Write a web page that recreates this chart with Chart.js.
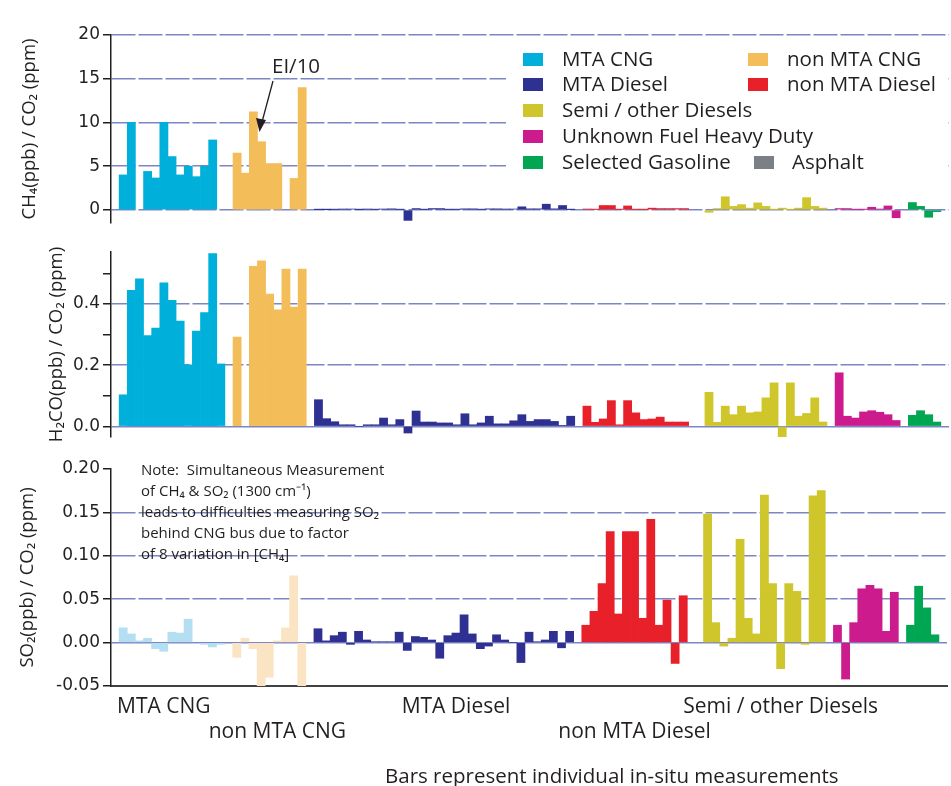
<!DOCTYPE html>
<html>
<head>
<meta charset="utf-8">
<script src="https://cdn.jsdelivr.net/npm/chart.js@4.4.1/dist/chart.umd.min.js"></script>
<style>
  body { margin: 0; background: #fff; width: 951px; height: 786px; position: relative; overflow: hidden; }
  canvas { position: absolute; left: 0; }
  #c1 { top: 0; }
  #c2 { top: 230px; }
  #c3 { top: 440px; }
  #foot { position: absolute; left: 385px; top: 761px; white-space: nowrap;
          font: 20.5px "Open Sans", sans-serif; color: #231f20; }
</style>
</head>
<body>
<canvas id="c1" width="951" height="240"></canvas>
<canvas id="c2" width="951" height="230"></canvas>
<canvas id="c3" width="951" height="346"></canvas>
<div id="foot">Bars represent individual in-situ measurements</div>
<script>
// vehicle groups, colours and the slot where each group starts
var categories = ['MTA CNG', 'non MTA CNG', 'MTA Diesel', 'non MTA Diesel',
    'Semi / other Diesels', 'Unknown Fuel Heavy Duty', 'Selected Gasoline', 'Asphalt'];
var colors = ['#00b0da', '#f3be5a', '#2e3192', '#e8202a', '#cfc62b', '#cc1b8d', '#00a651', '#7b8087'];
var so2Colors = ['#b4def2', '#fbe4c4', '#2e3192', '#e8202a', '#cfc62b', '#cc1b8d', '#00a651', '#7b8087'];
var groupStart = [1, 15, 25, 58, 73, 89, 98, 0];
var nSlots = 103;

// group names written under the bottom panel
var groupTickIndex = [6, 20, 42, 64, 82];
var groupTickText = [['MTA CNG'], ['', 'non MTA CNG'], ['MTA Diesel'], ['', 'non MTA Diesel'], ['Semi / other Diesels']];

// CH4 / CO2
var ch4MtaCng = [4.0, 10.0, null, 4.4, 3.65, 10.0, 6.1, 4.0, 5.0, 3.8, 5.0, 8.0, null];
var ch4NonMtaCng = [6.5, 4.2, 11.2, 7.8, 5.3, 5.3, null, 3.6, 14.0];
var ch4MtaDiesel = [0.03, 0.02, 0.05, 0.1, 0.1, 0.03, 0.1, 0.05, 0.1, 0.12, 0.05, -1.2, 0.15, 0.05, 0.15, 0.15,
    0.05, 0.05, 0.12, 0.12, 0.05, 0.12, 0.12, 0.1, 0.1, 0.35, 0.12, 0.12, 0.65, 0.12, 0.5, 0.03];
var ch4NonMtaDiesel = [0.1, 0.05, 0.5, 0.5, 0.05, 0.45, 0.05, 0.05, 0.2, 0.15, 0.15, 0.15, 0.15];
var ch4Semi = [-0.27, 0.15, 1.5, 0.4, 0.6, 0.2, 0.8, 0.4, 0.05, 0.2, 0.05, 0.2, 1.4, 0.4, 0.2];
var ch4Unknown = [0.15, 0.15, 0.05, 0.05, 0.3, 0.1, 0.45, -0.9];
var ch4Gasoline = [0.84, 0.4, -0.84, -0.2];

// H2CO / CO2
var h2coMtaCng = [0.103, 0.445, 0.482, 0.297, 0.321, 0.469, 0.412, 0.344, 0.201, 0.311, 0.372, 0.565, 0.204];
var h2coNonMtaCng = [0.292, null, 0.523, 0.541, 0.432, 0.381, 0.514, 0.39, 0.514];
var h2coMtaDiesel = [0.087, 0.025, 0.015, 0.005, 0.005, 0.0, 0.005, 0.005, 0.027, 0.005, 0.022, -0.022, 0.05, 0.014,
    0.014, 0.011, 0.011, 0.005, 0.041, 0.005, 0.011, 0.033, 0.008, 0.008, 0.018, 0.038, 0.016, 0.022, 0.022, 0.016, 0.003, 0.033];
var h2coNonMtaDiesel = [0.066, 0.013, 0.024, 0.084, 0.005, 0.084, 0.044, 0.022, 0.024, 0.03, 0.014, 0.014, 0.014];
var h2coSemi = [0.111, 0.013, 0.066, 0.038, 0.066, 0.044, 0.047, 0.093, 0.142, -0.036, 0.142, 0.033, 0.042, 0.093, 0.014];
var h2coUnknown = [0.175, 0.033, 0.027, 0.047, 0.051, 0.046, 0.038, 0.019];
var h2coGasoline = [0.036, 0.051, 0.038, 0.014];

// SO2 / CO2
var so2MtaCng = [0.017, 0.010, 0.002, 0.005, -0.007, -0.010, 0.012, 0.011, 0.027, -0.001, -0.002, -0.005, -0.002];
var so2NonMtaCng = [-0.017, 0.005, -0.007, -0.053, -0.040, 0.002, 0.017, 0.077, -0.053];
var so2MtaDiesel = [0.016, 0.002, 0.008, 0.012, -0.002, 0.013, 0.003, 0.001, 0.001, 0.001, 0.012, -0.009, 0.007, 0.006,
    0.003, -0.018, 0.008, 0.011, 0.032, 0.010, -0.007, -0.004, 0.009, 0.003, 0, -0.023, 0.012, 0.001, 0.003, 0.013, -0.006, 0.013];
var so2NonMtaDiesel = [0.020, 0.036, 0.068, 0.128, 0.033, 0.128, 0.128, 0.028, 0.142, 0.020, 0.049, -0.024, 0.054];
var so2Semi = [0.148, 0.023, -0.004, 0.005, 0.119, 0.028, 0.010, 0.170, 0.068, -0.030, 0.068, 0.059, -0.002, 0.169, 0.175];
var so2Unknown = [0.020, -0.042, 0.023, 0.062, 0.066, 0.062, 0.013, 0.058];
var so2Gasoline = [0.020, 0.065, 0.040, 0.009];

var xLabels = [];
for (var i = 0; i < nSlots; i++) xLabels.push('');
groupTickIndex.forEach(function (idx, k) { xLabels[idx] = groupTickText[k]; });

function spread(start, vals) {
    var a = [];
    for (var i = 0; i < nSlots; i++) a.push(null);
    if (vals) vals.forEach(function (v, i) { a[start + i] = v; });
    return a;
}

function makeSets(groups, cols) {
    return categories.map(function (name, k) {
        return {
            label: name,
            data: spread(groupStart[k], groups[k]),
            backgroundColor: cols[k],
            borderWidth: 0,
            grouped: false,
            barPercentage: 1,
            categoryPercentage: 1
        };
    });
}

var ink = '#231f20';
var gridBlue = '#7d86c4';
var near = function (a, b) { return Math.abs(a - b) < 1e-6; };

function yScale(o) {
    return {
        min: o.min,
        max: o.max,
        afterFit: function (s) { s.width = 111; },
        border: {
            color: ink, width: 1.5,
            dash: function (ctx) { return (o.solidZero && ctx.tick && near(ctx.tick.value, 0)) ? [] : [24, 3]; }
        },
        grid: {
            color: function (ctx) { return o.grid(ctx.tick.value) ? gridBlue : 'rgba(0,0,0,0)'; },
            lineWidth: 1.5,
            tickColor: ink,
            tickLength: 8,
            tickWidth: 1.5
        },
        ticks: {
            stepSize: o.step,
            includeBounds: false,
            font: { family: 'DejaVu Sans', size: 17 },
            color: ink,
            padding: 3,
            callback: o.label
        },
        title: {
            display: true,
            text: o.title,
            font: { family: 'Open Sans', size: 18.5 },
            color: ink,
            padding: { top: o.titlePad, bottom: 0 }
        }
    };
}

var legendSpots = [[523, 562, 59], [748, 787, 59], [523, 562, 84], [748, 787, 84],
    [523, 562, 110], [523, 562, 136], [523, 562, 162], [754, 792, 162]];

var legendPlugin = {
    id: 'boxLegend',
    afterDraw: function (chart) {
        var ctx = chart.ctx;
        ctx.save();
        ctx.fillStyle = '#fff';
        ctx.fillRect(506, 41, 440, 134);
        ctx.font = '20.5px "Open Sans"';
        ctx.textBaseline = 'middle';
        chart.data.datasets.forEach(function (ds, k) {
            var p = legendSpots[k];
            ctx.fillStyle = colors[k];
            ctx.fillRect(p[0], p[2] - 6, 20, 13);
            ctx.fillStyle = ink;
            ctx.fillText(ds.label, p[1], p[2] + 1);
        });
        // EI/10 marker
        ctx.fillText('EI/10', 272, 67);
        ctx.strokeStyle = ink;
        ctx.lineWidth = 1.3;
        ctx.beginPath();
        ctx.moveTo(273, 81);
        ctx.lineTo(262, 122);
        ctx.stroke();
        ctx.beginPath();
        ctx.moveTo(259.5, 132);
        ctx.lineTo(256, 118);
        ctx.lineTo(266, 120);
        ctx.closePath();
        ctx.fill();
        ctx.restore();
    }
};

var noteLines = ['Note:  Simultaneous Measurement', 'of CH\u2084 & SO\u2082 (1300 cm\u207B\u00B9)',
    'leads to difficulties measuring SO\u2082', 'behind CNG bus due to factor', 'of 8 variation in [CH\u2084]'];
var notePlugin = {
    id: 'note',
    afterDraw: function (chart) {
        var ctx = chart.ctx;
        ctx.save();
        ctx.font = '15px "Open Sans"';
        ctx.fillStyle = ink;
        ctx.textBaseline = 'middle';
        noteLines.forEach(function (t, i) { ctx.fillText(t, 141, 31 + i * 21); });
        ctx.restore();
    }
};

var common = {
    responsive: false,
    animation: false,
    events: [],
    plugins: { legend: { display: false }, tooltip: { enabled: false } }
};

new Chart(document.getElementById('c1'), {
    type: 'bar',
    data: {
        labels: xLabels,
        datasets: makeSets([ch4MtaCng, ch4NonMtaCng, ch4MtaDiesel, ch4NonMtaDiesel, ch4Semi, ch4Unknown, ch4Gasoline, null], colors)
    },
    options: Object.assign({}, common, {
        layout: { padding: { top: 35, bottom: 17, left: 0, right: 2 } },
        scales: {
            x: { display: false },
            y: yScale({
                min: -1.5, max: 20, step: 5, titlePad: 19,
                title: 'CH\u2084(ppb) / CO\u2082 (ppm)',
                grid: function (v) { return v >= 0; },
                label: function (v) { return v; }
            })
        }
    }),
    plugins: [legendPlugin]
});

new Chart(document.getElementById('c2'), {
    type: 'bar',
    data: {
        labels: xLabels,
        datasets: makeSets([h2coMtaCng, h2coNonMtaCng, h2coMtaDiesel, h2coNonMtaDiesel, h2coSemi, h2coUnknown, h2coGasoline, null], colors)
    },
    options: Object.assign({}, common, {
        layout: { padding: { top: 22, bottom: 23, left: 0, right: 2 } },
        scales: {
            x: { display: false },
            y: yScale({
                min: -0.035, max: 0.57, step: 0.1, titlePad: 46, solidZero: true,
                title: 'H\u2082CO(ppb) / CO\u2082 (ppm)',
                grid: function (v) { return Math.round(v * 10) % 2 === 0 && v < 0.45; },
                label: function (v) { return Math.round(v * 10) % 2 === 0 ? v.toFixed(1) : ''; }
            })
        }
    })
});

new Chart(document.getElementById('c3'), {
    type: 'bar',
    data: {
        labels: xLabels,
        datasets: makeSets([so2MtaCng, so2NonMtaCng, so2MtaDiesel, so2NonMtaDiesel, so2Semi, so2Unknown, so2Gasoline, null], so2Colors)
    },
    options: Object.assign({}, common, {
        layout: { padding: { top: 29, bottom: 0, left: 0, right: 2 } },
        scales: {
            x: {
                afterFit: function (s) { s.height = 100; },
                border: { color: '#414042', width: 2 },
                grid: { display: false, drawTicks: false },
                ticks: {
                    autoSkip: false, maxRotation: 0, minRotation: 0, padding: 8,
                    font: { family: 'Open Sans', size: 21 }, color: ink
                }
            },
            y: yScale({
                min: -0.05, max: 0.2, step: 0.05, titlePad: 17, solidZero: true,
                title: 'SO\u2082(ppb) / CO\u2082 (ppm)',
                grid: function (v) { return v > -0.01 && v < 0.19; },
                label: function (v) { return v.toFixed(2); }
            })
        }
    }),
    plugins: [notePlugin]
});
</script>
</body>
</html>
